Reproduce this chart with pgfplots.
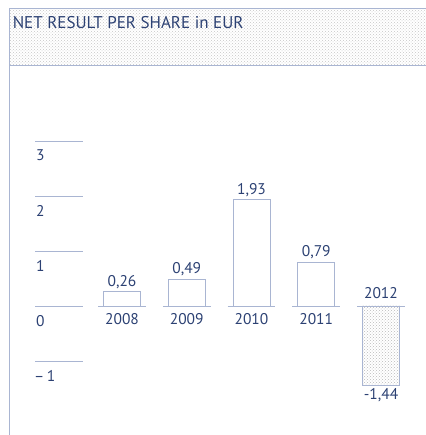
\documentclass[border=0pt]{standalone}
\usepackage{pgfplots}
\pgfplotsset{compat=1.18}
\usepackage{fontspec}
\setmainfont{PT Sans}
\usetikzlibrary{patterns}
\definecolor{txt}{HTML}{2C4173}
\definecolor{ln}{HTML}{A9B5D2}
\begin{document}
\begin{tikzpicture}
\begin{axis}[
  scale only axis, width=426pt, height=435pt,
  xmin=-1.8842, xmax=4.6950, ymin=-2.3455, ymax=5.5636,
  hide axis, clip=false,
  ybar, bar width=37pt, bar shift=0pt,
  /pgf/number format/assume math mode=true,
  nodes near coords={\pgfmathprintnumber[fixed,fixed zerofill,precision=2,use comma]{\pgfplotspointmeta}},
  every node near coord/.append style={font=\fontsize{15.5}{16}\selectfont, text=txt, inner sep=3pt},
]
% header
\path[pattern=crosshatch dots, pattern color=gray!45] (axis cs:-1.745,5.418) rectangle (axis cs:4.695,4.382);
\draw[ln, line width=0.8pt] (axis cs:4.695,5.418) -- (axis cs:-1.745,5.418) -- (axis cs:-1.745,-2.3455);
\draw[ln, line width=0.8pt] (axis cs:-1.745,4.382) -- (axis cs:4.695,4.382);
\node[anchor=west, text=txt, font=\fontsize{17}{19}\selectfont, inner sep=0pt] at (axis cs:-1.69,5.15) {NET RESULT PER SHARE in EUR};
% y grid stubs and labels
\draw[ln, line width=0.6pt] (axis cs:-1.3436,3) -- (axis cs:-0.6023,3);
\draw[ln, line width=0.6pt] (axis cs:-1.3436,2) -- (axis cs:-0.6023,2);
\draw[ln, line width=0.6pt] (axis cs:-1.3436,1) -- (axis cs:-0.6023,1);
\draw[ln, line width=0.6pt] (axis cs:-1.3436,0) -- (axis cs:-0.6023,0);
\draw[ln, line width=0.6pt] (axis cs:-1.3436,-1) -- (axis cs:-0.6023,-1);
\node[anchor=north west, text=txt, font=\fontsize{15.5}{16}\selectfont, inner sep=0pt] at (axis cs:-1.33,2.84) {3};
\node[anchor=north west, text=txt, font=\fontsize{15.5}{16}\selectfont, inner sep=0pt] at (axis cs:-1.33,1.84) {2};
\node[anchor=north west, text=txt, font=\fontsize{15.5}{16}\selectfont, inner sep=0pt] at (axis cs:-1.33,0.84) {1};
\node[anchor=north west, text=txt, font=\fontsize{15.5}{16}\selectfont, inner sep=0pt] at (axis cs:-1.33,-0.16) {0};
\node[anchor=north west, text=txt, font=\fontsize{15.5}{16}\selectfont, inner sep=0pt] at (axis cs:-1.36,-1.16) {–\,1};
% baselines
\draw[ln, line width=0.6pt] (axis cs:-0.37,0) -- (axis cs:0.37,0);
\draw[ln, line width=0.6pt] (axis cs:0.63,0) -- (axis cs:1.37,0);
\draw[ln, line width=0.6pt] (axis cs:1.63,0) -- (axis cs:2.37,0);
\draw[ln, line width=0.6pt] (axis cs:2.63,0) -- (axis cs:3.37,0);
\draw[ln, line width=0.6pt] (axis cs:3.63,0) -- (axis cs:4.37,0);
% bars
\addplot[draw=ln, fill=white, line width=0.7pt] coordinates {(0,0.26) (1,0.49) (2,1.93) (3,0.79)};
\addplot[draw=ln, pattern=crosshatch dots, pattern color=gray!55, line width=0.7pt] coordinates {(4,-1.44)};
% year labels
\node[text=txt, font=\fontsize{15.5}{16}\selectfont] at (axis cs:0,-0.24) {2008};
\node[text=txt, font=\fontsize{15.5}{16}\selectfont] at (axis cs:1,-0.24) {2009};
\node[text=txt, font=\fontsize{15.5}{16}\selectfont] at (axis cs:2,-0.24) {2010};
\node[text=txt, font=\fontsize{15.5}{16}\selectfont] at (axis cs:3,-0.24) {2011};
\node[text=txt, font=\fontsize{15.5}{16}\selectfont] at (axis cs:4,0.24) {2012};
\end{axis}
\pgfresetboundingbox
\path (current axis.south west) rectangle (current axis.north east);
\end{tikzpicture}
\end{document}
